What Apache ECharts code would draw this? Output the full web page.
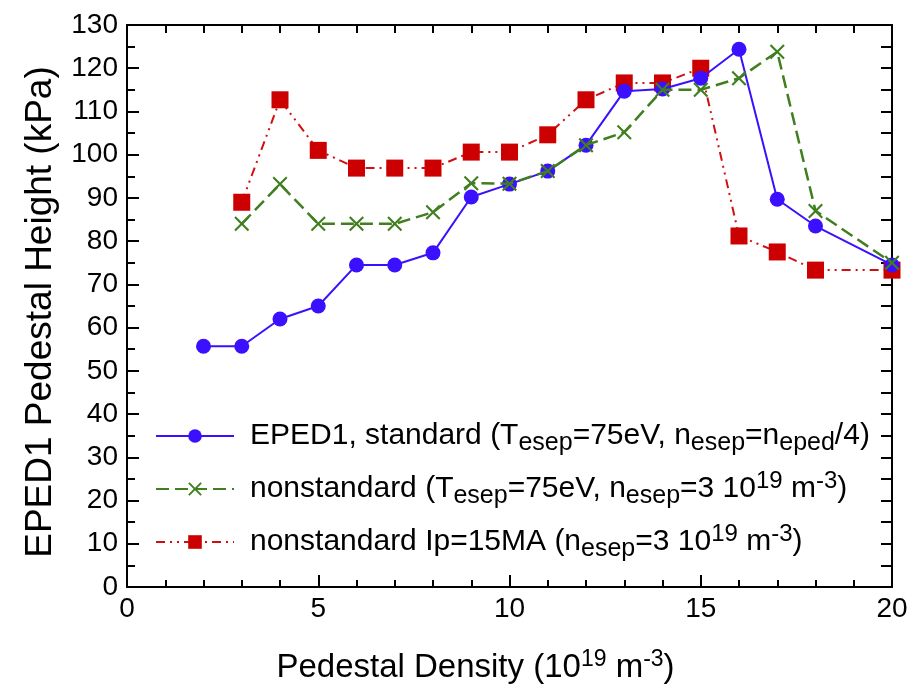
<!DOCTYPE html>
<html><head><meta charset="utf-8">
<script src="https://cdn.jsdelivr.net/npm/echarts@6/dist/echarts.min.js"></script>
<style>html,body{margin:0;padding:0;background:#fff}#c{width:913px;height:689px}</style>
</head><body><div id="c"></div>
<script>
const xStd = [2,3,4,5,6,7,8,9,10,11,12,13,14,15,16,17,18,20];
const yStd = [55.7,55.7,62,65,74.5,74.5,77.3,90.2,93.2,96.2,102.2,114.7,115.2,117.7,124.4,89.7,83.5,74.5];
const xNon = [3,4,5,6,7,8,9,10,11,12,13,14,15,16,17,18,20];
const yNon = [84,93.2,84,84,84,86.7,93.4,93.3,96.2,102.2,105.2,115,115,117.7,123.8,87,75];
const xIp = [3,4,5,6,7,8,9,10,11,12,13,14,15,16,17,18,20];
const yIp = [89,112.7,101,96.9,96.9,96.9,100.6,100.6,104.6,112.7,116.6,116.6,120,81.2,77.5,73.3,73.3];
const names = ['std','non','ip'];
const font = 'Liberation Sans, Arial, sans-serif';
const pair = (xs, ys) => xs.map((x,i)=>[x, ys[i]]);
const xPath = 'path://M0,1 L1,0 L5,4 L9,0 L10,1 L6,5 L10,9 L9,10 L5,6 L1,10 L0,9 L4,5 Z';
const chart = echarts.init(document.getElementById('c'));
function ax(extra){
  return Object.assign({
    type:'value',
    axisLine:{onZero:false,lineStyle:{color:'#000',width:2}},
    splitLine:{show:false}
  }, extra);
}
chart.setOption({
  animation:false,
  grid:{left:127,right:21,top:25,bottom:102,containLabel:false,outerBoundsMode:'none'},
  xAxis:[
    ax({min:0,max:20,interval:5,position:'bottom',
      axisTick:{inside:true,length:12,lineStyle:{color:'#000',width:2}},
      minorTick:{show:true,splitNumber:5,length:7,lineStyle:{color:'#000',width:2}},
      axisLabel:{fontFamily:font,fontSize:28,color:'#000',margin:8},
      name:'Pedestal Density (10{sup|19} m{sup|-3})',nameLocation:'middle',nameGap:61,
      nameTextStyle:{fontFamily:font,fontSize:33,color:'#000',padding:[0,68,0,0],
        rich:{sup:{fontSize:23,verticalAlign:'top',padding:[0,0,16,0],fontFamily:font}}}
    }),
    ax({min:0,max:20,interval:1,position:'top',axisLabel:{show:false},
      axisTick:{inside:true,length:8,lineStyle:{color:'#000',width:2}}})
  ],
  yAxis:[
    ax({min:0,max:130,interval:10,position:'left',
      axisTick:{inside:true,length:12,lineStyle:{color:'#000',width:2}},
      minorTick:{show:true,splitNumber:2,length:8,lineStyle:{color:'#000',width:2}},
      axisLabel:{fontFamily:font,fontSize:28,color:'#000',margin:9},
      name:'EPED1 Pedestal Height (kPa)',nameLocation:'middle',nameGap:68,
      nameTextStyle:{fontFamily:font,fontSize:37,color:'#000',padding:[0,12,0,0]}
    }),
    ax({min:0,max:130,interval:5,position:'right',axisLabel:{show:false},
      axisTick:{inside:true,length:11,lineStyle:{color:'#000',width:2}}})
  ],
  legend:{
    left:150, top:416, orient:'vertical', itemGap:14, itemWidth:78, itemHeight:17,
    data:names,
    formatter:function(n){
      if(n==='std') return '{g|}EPED1, standard (T{sub|esep}=75eV, n{sub|esep}=n{sub|eped}/4)';
      if(n==='non') return '{g|}nonstandard (T{sub|esep}=75eV, n{sub|esep}=3 10{sup|19} m{sup|-3})';
      return '{g|}nonstandard Ip=15MA (n{sub|esep}=3 10{sup|19} m{sup|-3})';
    },
    textStyle:{fontFamily:font,fontSize:30,color:'#000',
      rich:{g:{width:11},
            sub:{fontFamily:font,fontSize:25,verticalAlign:'bottom',padding:[14,0,0,0]},
            sup:{fontFamily:font,fontSize:24,verticalAlign:'top',padding:[0,0,12,0]}}}
  },
  series:[
    {name:'std',type:'line',data:pair(xStd,yStd),symbol:'circle',symbolSize:15,
      lineStyle:{color:'#3a10ff',width:2},itemStyle:{color:'#3a10ff'},z:3},
    {name:'non',type:'line',data:pair(xNon,yNon),symbol:xPath,symbolSize:15,
      lineStyle:{color:'#3f7f1f',width:2.5,type:[13,6]},itemStyle:{color:'#3f7f1f'},z:4},
    {name:'ip',type:'line',data:pair(xIp,yIp),symbol:'rect',symbolSize:17,
      lineStyle:{color:'#d01010',width:2,type:[9,5,2,5,2,5]},itemStyle:{color:'#cc0000'},z:2}
  ]
});
</script></body></html>
